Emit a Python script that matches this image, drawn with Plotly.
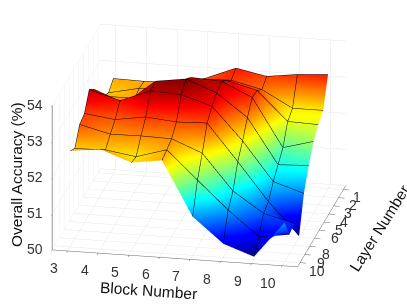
import plotly.graph_objects as go

blocks = [3, 4, 5, 6, 7, 8, 9, 10]
layers = [1, 2, 3, 4, 5, 6, 7, 8, 9, 10]
layer_labels = ["1", "2", "3", "4", "5", "6", "", "8", "9", "10"]
z_ticks = [50, 51, 52, 53, 54]

acc_l1 = [52.64, 52.62, 52.65, 52.82, 53.16, 52.99, 53.10, 53.16]
acc_l2 = [52.47, 52.65, 52.70, 53.02, 53.05, 52.85, 52.39, 52.39]
acc_l3 = [52.60, 52.60, 52.90, 53.27, 53.27, 53.05, 52.25, 52.22]
acc_l4 = [52.85, 52.70, 53.20, 53.52, 53.47, 53.08, 51.75, 51.98]
acc_l5 = [53.24, 52.91, 53.58, 53.70, 53.37, 52.75, 51.50, 51.54]
acc_l6 = [53.46, 53.21, 53.54, 53.49, 53.23, 52.33, 51.26, 50.99]
acc_l7 = [53.02, 52.91, 53.04, 52.96, 52.99, 51.98, 50.93, 50.04]
acc_l8 = [52.94, 52.73, 52.74, 52.72, 52.38, 51.39, 50.83, 50.61]
acc_l9 = [52.50, 52.52, 52.39, 52.64, 51.86, 51.09, 50.41, 50.53]
acc_l10 = [52.66, 52.76, 52.45, 52.57, 51.07, 50.38, 50.08, 51.08]
acc = [acc_l1, acc_l2, acc_l3, acc_l4, acc_l5, acc_l6, acc_l7, acc_l8, acc_l9, acc_l10]

jet = [[0, "#00007f"], [0.11, "#0000ff"], [0.125, "#0000ff"], [0.375, "#00ffff"],
       [0.625, "#ffff00"], [0.875, "#ff0000"], [1, "#7f0000"]]

fig = go.Figure(go.Surface(
    x=blocks, y=layers, z=acc, colorscale=jet, cmin=50.04, cmax=53.70, showscale=False,
    lighting=dict(ambient=1, diffuse=0, specular=0, roughness=1, fresnel=0),
    contours=dict(
        x=dict(show=True, start=3, end=10, size=1, color="#000000", width=1, highlight=False),
        y=dict(show=True, start=1, end=10, size=1, color="#000000", width=1, highlight=False),
        z=dict(highlight=False),
    ),
))

tickfont = dict(family="Liberation Sans", size=14, color="#333333")
titlefont = dict(family="Liberation Sans", size=15.5, color="#111111")
common = dict(showbackground=False, gridcolor="#e6e6e6", gridwidth=1, zeroline=False,
              showline=True, ticks="outside", tickcolor="#555555", showticklabels=False,
              showspikes=False)

W, H = 407, 305


def label(text, px, py, font, angle=0):
    return dict(text=text, x=px / W, y=1 - py / H, textangle=angle, font=font, xref="paper",
                yref="paper", showarrow=False, xanchor="center", yanchor="middle")


notes = [
    label("Overall Accuracy (%)", 16, 175, titlefont, -90),
    label("Block Number", 148, 290, titlefont, 4),
    label("Layer Number", 379, 228, titlefont, -58),
]
notes += [label(str(b), 54 + (b - 3) * 30.6, 268 + (b - 3) * 2.1, tickfont) for b in blocks]
notes += [label(str(v), 35, 249 - (v - 50) * 36, tickfont) for v in z_ticks]
notes += [label(t, 357 - (n - 1) * 4.5, 197 + (n - 1) * 8.2, tickfont)
          for n, t in zip(layers, layer_labels) if t]

R = 1.06
S = 1.72
fig.update_layout(
    width=W, height=H, margin=dict(l=0, r=0, t=0, b=0),
    paper_bgcolor="white",
    annotations=notes,
    scene=dict(
        domain=dict(x=[0, 0.977], y=[0.0443, 1]),
        xaxis=dict(title=dict(text=""), range=[2.5, 10.5], tickvals=blocks,
                   linecolor="#666666", linewidth=1, ticklen=6, **common),
        yaxis=dict(title=dict(text=""), range=[10.5, 0.5], tickvals=layers,
                   linecolor="#666666", linewidth=1, ticklen=5, **common),
        zaxis=dict(title=dict(text=""), range=[50, 54], tickvals=z_ticks,
                   linecolor="#999999", linewidth=2, ticklen=4, **common),
        aspectmode="manual", aspectratio=dict(x=1 * S, y=0.973 * S, z=0.614 * S),
        camera=dict(projection=dict(type="orthographic"),
                    up=dict(x=0, y=0, z=1), center=dict(x=0, y=0, z=0),
                    eye=dict(x=0.186 * R, y=-0.921 * R, z=0.340 * R)),
    ),
)
fig.write_html("out.html", post_script="document.body.style.margin='0';",
               config={"displayModeBar": False})
